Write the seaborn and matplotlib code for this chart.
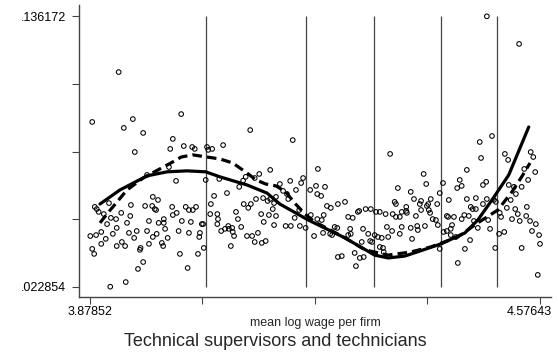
import matplotlib
matplotlib.use("Agg")
import matplotlib.pyplot as plt
import matplotlib.transforms as mtransforms
import seaborn as sns
import pandas as pd
import numpy as np

# ---- data ----
firm_wage = [
    3.879, 3.882, 3.882, 3.885, 3.886, 3.888, 3.889, 3.892, 3.896, 3.896, 3.900, 3.903, 3.905, 3.908,
    3.910, 3.911, 3.914, 3.919, 3.920, 3.920, 3.923, 3.927, 3.928, 3.931, 3.933, 3.934, 3.936, 3.939,
    3.941, 3.942, 3.945, 3.947, 3.948, 3.951, 3.956, 3.953, 3.957, 3.961, 3.961,
    3.964, 3.967, 3.967, 3.970, 3.970, 3.975, 3.976, 3.976, 3.979, 3.981, 3.982, 3.984, 3.985, 3.990,
    3.992, 3.993, 3.993, 3.995, 3.999, 4.001, 4.003, 4.006, 4.007, 4.007, 4.013, 4.012, 4.016, 4.018,
    4.020, 4.021, 4.024, 4.027, 4.030, 4.032, 4.032, 4.035, 4.037, 4.038, 4.041, 4.043, 4.046, 4.048, 4.049,
    4.052, 4.054, 4.055, 4.058, 4.060, 4.062, 4.065, 4.066, 4.068, 4.071, 4.076, 4.077, 4.076, 4.079,
    4.082, 4.085, 4.088, 4.091, 4.093, 4.094, 4.097, 4.099, 4.100, 4.102, 4.105, 4.108, 4.110, 4.113,
    4.116, 4.117, 4.120, 4.122, 4.124, 4.127, 4.128, 4.130, 4.134, 4.134, 4.136, 4.139, 4.141, 4.144, 4.145,
    4.147, 4.148, 4.151, 4.154, 4.156, 4.158, 4.158, 4.162, 4.164, 4.164, 4.167, 4.167, 4.173, 4.178,
    4.184, 4.186, 4.182, 4.189, 4.190, 4.193, 4.196, 4.198, 4.203, 4.204, 4.206, 4.209, 4.213, 4.220,
    4.221, 4.226, 4.229, 4.231, 4.231, 4.232, 4.237, 4.238, 4.240, 4.241,
    4.243, 4.246, 4.251, 4.252, 4.254, 4.258, 4.262, 4.263, 4.263, 4.269, 4.274, 4.279, 4.279, 4.282,
    4.283, 4.286, 4.289, 4.291, 4.294, 4.296, 4.297, 4.300, 4.302, 4.303, 4.306, 4.310, 4.313, 4.314,
    4.316, 4.320, 4.322, 4.325, 4.328,
    4.328, 4.331, 4.333, 4.334, 4.337, 4.339, 4.341, 4.344, 4.347, 4.348, 4.351, 4.353, 4.353, 4.356,
    4.359, 4.359, 4.362, 4.362, 4.369, 4.369, 4.370, 4.376, 4.376, 4.378, 4.381, 4.384, 4.386, 4.387,
    4.390, 4.392, 4.392, 4.396, 4.398, 4.400, 4.401, 4.403, 4.404, 4.406, 4.407, 4.410, 4.415, 4.417,
    4.418, 4.421, 4.421,
    4.426, 4.427, 4.432, 4.434, 4.432, 4.435, 4.438, 4.438, 4.440, 4.443, 4.446, 4.448, 4.449, 4.452,
    4.455, 4.455, 4.459, 4.460, 4.463, 4.463, 4.466, 4.468, 4.469, 4.472, 4.474, 4.477, 4.477, 4.480,
    4.483, 4.485, 4.488, 4.488, 4.493, 4.494, 4.494, 4.496, 4.499, 4.502, 4.505, 4.507, 4.508, 4.513,
    4.514, 4.516, 4.521, 4.522, 4.525, 4.527, 4.528, 4.531, 4.533, 4.536, 4.538, 4.539, 4.542, 4.544,
    4.545, 4.548, 4.548, 4.552, 4.555, 4.556, 4.558, 4.561, 4.562, 4.564, 4.566, 4.569, 4.570, 4.573,
    4.575, 4.57643,
]
tech_share = [
    0.0441, 0.0919, 0.0387, 0.0366, 0.0563, 0.0445, 0.0554, 0.0542, 0.0458, 0.0408, 0.0533, 0.0429, 0.0491, 0.0579,
    0.022854, 0.0517, 0.0450, 0.0512, 0.0475, 0.0399, 0.1128, 0.0538, 0.0416, 0.0894, 0.0399, 0.0248, 0.0496, 0.0454,
    0.0525, 0.0571, 0.0931, 0.0433, 0.0793, 0.0462, 0.0383, 0.0303, 0.0391, 0.0873, 0.0332,
    0.0567, 0.0697, 0.0462, 0.0504, 0.0408, 0.0567, 0.0605, 0.0437, 0.0554, 0.0550, 0.0450, 0.0592, 0.0496, 0.0412,
    0.0399, 0.0512, 0.0496, 0.0471, 0.0433, 0.0730, 0.0806, 0.0563, 0.0848, 0.0529, 0.0538, 0.0672, 0.0462, 0.0366,
    0.0952, 0.0504, 0.0818, 0.0563, 0.0307, 0.0550, 0.0454, 0.0500, 0.0814, 0.0550, 0.0806, 0.0563, 0.0366, 0.0437, 0.0454,
    0.0491, 0.0491, 0.0391, 0.0676, 0.0814, 0.0802, 0.0533, 0.0575, 0.0806, 0.0609, 0.0533, 0.0512, 0.0491, 0.0680,
    0.0462, 0.0822, 0.0471, 0.0621, 0.0483, 0.0471, 0.0399, 0.0475, 0.0458, 0.0441, 0.0542, 0.0512, 0.0647, 0.0479,
    0.0673, 0.0575, 0.0689, 0.0441, 0.0559, 0.0885, 0.0575, 0.0441, 0.0684, 0.0416, 0.0596, 0.0454, 0.0701, 0.0533, 0.0412,
    0.0600, 0.0500, 0.0420, 0.0588, 0.0529, 0.0718, 0.0596, 0.0554, 0.0579, 0.0487, 0.0605, 0.0525, 0.0659, 0.0630,
    0.0617, 0.0596, 0.0483, 0.0672, 0.0483, 0.0843, 0.0517, 0.0634, 0.0550, 0.0483, 0.0663, 0.0684, 0.0475, 0.0634,
    0.0529, 0.0441, 0.0651, 0.0617, 0.0512, 0.0722, 0.0609, 0.0508, 0.0454, 0.0529,
    0.0647, 0.0567, 0.0450, 0.0559, 0.0445, 0.0479, 0.0475, 0.0575, 0.0353, 0.0357, 0.0584, 0.0521, 0.0445, 0.0471,
    0.0450, 0.0517, 0.0370, 0.0315, 0.0542, 0.0546, 0.0349, 0.0416, 0.0471, 0.0353, 0.0554, 0.0450, 0.0420, 0.0554,
    0.0416, 0.0445, 0.0542, 0.0437, 0.0542,
    0.0395, 0.0433, 0.0391, 0.0374, 0.0533, 0.0479, 0.0437, 0.0785, 0.0462, 0.0533, 0.0584, 0.0575, 0.0521, 0.0642,
    0.0521, 0.0450, 0.0542, 0.0479, 0.0563, 0.0546, 0.0538, 0.0626, 0.0475, 0.0429, 0.0596, 0.0525, 0.0483, 0.0466,
    0.0575, 0.0588, 0.0550, 0.0701, 0.0483, 0.0659, 0.0567, 0.0575, 0.0550, 0.0538, 0.0596, 0.0512, 0.0508, 0.0575,
    0.0487, 0.0621, 0.0387,
    0.0663, 0.0458, 0.0525, 0.0521, 0.0462, 0.0592, 0.0471, 0.0445, 0.0487, 0.0521, 0.0437, 0.0642, 0.0328, 0.0676,
    0.0651, 0.0512, 0.0529, 0.0387, 0.0718, 0.0596, 0.0525, 0.0424, 0.0563, 0.0554, 0.0504, 0.0600, 0.0554, 0.0475,
    0.0835, 0.0768, 0.0655, 0.0575, 0.0668, 0.136172, 0.0596, 0.0508, 0.0471, 0.0860, 0.0592, 0.0391, 0.0584, 0.0450,
    0.0538, 0.0521, 0.0458, 0.0785, 0.0559, 0.0760, 0.0655, 0.0592, 0.0512, 0.0647, 0.0554, 0.0617, 0.0533, 0.1246,
    0.0504, 0.0647, 0.0391, 0.0722, 0.0525, 0.0563, 0.0676, 0.0504, 0.0793, 0.0462, 0.0772, 0.0709, 0.0491, 0.0278,
    0.0445, 0.0408,
]

solid_x = [3.894, 3.925, 3.967, 3.998, 4.029, 4.058, 4.080, 4.122, 4.153, 4.173, 4.217, 4.274, 4.320,
           4.341, 4.367, 4.423, 4.460, 4.480, 4.502, 4.528, 4.559]
solid_y = [0.0575, 0.0634, 0.0693, 0.0710, 0.0714, 0.0710, 0.0689, 0.0655, 0.0621, 0.0575, 0.0508, 0.0433,
           0.0361, 0.0349, 0.0357, 0.0408, 0.0454, 0.0508, 0.0592, 0.0697, 0.0898]

dash_x = [3.894, 3.910, 3.936, 3.961, 3.984, 4.004, 4.020, 4.038, 4.060, 4.080, 4.100, 4.122, 4.136,
          4.151, 4.167, 4.182, 4.196, 4.212, 4.227, 4.248, 4.274, 4.305, 4.341, 4.376, 4.407, 4.449,
          4.480, 4.511, 4.533, 4.548, 4.561]
dash_y = [0.0496, 0.0550, 0.0634, 0.0684, 0.0718, 0.0747, 0.0772, 0.0781, 0.0772, 0.0764, 0.0747, 0.0705,
          0.0676, 0.0659, 0.0651, 0.0626, 0.0579, 0.0533, 0.0500, 0.0471, 0.0433, 0.0383, 0.0361, 0.0374,
          0.0395, 0.0437, 0.0496, 0.0550, 0.0626, 0.0689, 0.0747]

cut_points = [4.058, 4.214, 4.3194, 4.4224, 4.5097]

x_min, x_max = 3.87852, 4.57643
y_min, y_max = 0.022854, 0.136172
x_tick_labels = ["3.87852", "", "", "", "4.57643"]
y_tick_labels = [".022854", "", "", "", ".136172"]

# ---- plot ----
sns.set_style("ticks")
plt.rcParams["font.family"] = ["Liberation Sans", "DejaVu Sans"]

fig = plt.figure(figsize=(5.58, 3.56), dpi=100)
ax = fig.add_axes([79 / 558, 59 / 356, 472 / 558, 292 / 356])

pts = pd.DataFrame({"wage": firm_wage, "share": tech_share})
sns.scatterplot(data=pts, x="wage", y="share", ax=ax, s=11, marker="o",
                facecolors="none", edgecolor="black", linewidth=0.75, zorder=3)

ax.vlines(cut_points, y_min, y_max, color="#444444", linewidth=0.9, zorder=2)

sns.lineplot(x=solid_x, y=solid_y, ax=ax, color="black", linewidth=2.3,
             sort=False, estimator=None, zorder=4)
sns.lineplot(x=dash_x, y=dash_y, ax=ax, color="black", linewidth=2.3,
             linestyle=(0, (3, 1.6)), sort=False, estimator=None, zorder=4)

ax.set_xlim(3.8615, 4.5935)
ax.set_ylim(0.01854, 0.14091)
ax.set_xticks(np.linspace(x_min, x_max, 5))
ax.set_xticklabels(x_tick_labels)
ax.set_yticks(np.linspace(y_min, y_max, 5))
ax.set_yticklabels(y_tick_labels)

sns.despine(ax=ax)
for side in ["left", "bottom"]:
    ax.spines[side].set_color("#444444")
    ax.spines[side].set_linewidth(1.0)
ax.tick_params(axis="both", which="major", direction="out", length=5, width=0.8,
               color="#444444", labelsize=9, labelcolor="black",
               bottom=True, left=True)
ax.tick_params(axis="x", pad=1.5)
ax.tick_params(axis="y", pad=4.3)

ax.set_ylabel("")
ax.set_xlabel("mean log wage per firm", fontsize=9)
ax.xaxis.set_label_coords(0.5, -0.101)
ax.xaxis.label.set_va("baseline")

# keep the last x tick label inside the figure (shifted left like the reference)
last_lab = ax.get_xticklabels()[-1]
last_lab.set_transform(last_lab.get_transform() +
                       mtransforms.ScaledTranslation(-11 / 100, 0, fig.dpi_scale_trans))

fig.text(0.493, 1 - 346 / 356, "Technical supervisors and technicians",
         ha="center", va="baseline", fontsize=13)

fig.savefig("out.png", dpi=100)
